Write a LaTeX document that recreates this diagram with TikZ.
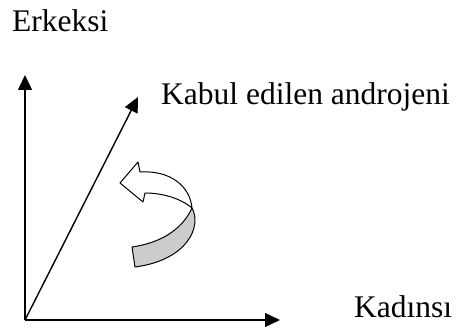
\documentclass[tikz,border=0pt]{standalone}
\usepackage{fontspec}
\setmainfont{Liberation Serif}
\usetikzlibrary{arrows.meta}
\begin{document}
\begin{tikzpicture}[x=1pt,y=-1pt,
  axis/.style={line width=1.4pt,-{Triangle[length=15pt,width=14pt]}},
  lbl/.style={anchor=base west,inner sep=0pt,font=\fontsize{31.5}{36}\selectfont},
  ribbon/.style={draw=black,line width=1pt,line join=round}]
\useasboundingbox (0,0) rectangle (456,329);
\coordinate (O) at (25,320);
\coordinate (Y) at (25,75);
\coordinate (X) at (280,320);
\coordinate (D) at (138,97);
\draw[axis] (O) -- (Y);
\draw[axis] (O) -- (X);
\draw[axis] (O) -- (D);
\node[lbl] (erk) at (12,32) {Erkeksi};
\node[lbl] (kab) at (161,105) {Kabul edilen androjeni};
\node[lbl] (kad) at (354,317) {Kadınsı};
% curved ribbon arrow
\draw[ribbon,fill=white] (120,183) -- (138,162) -- (140,172)
  .. controls (170,170) and (190,186) .. (192,208)
  .. controls (180,198) and (162,193) .. (145,193)
  -- (143,202) -- cycle;
\draw[ribbon,fill=black!20] (192,208)
  .. controls (202,226) and (188,260) .. (135,267)
  -- (132,247)
  .. controls (160,243) and (182,230) .. (192,208) -- cycle;
\end{tikzpicture}
\end{document}
